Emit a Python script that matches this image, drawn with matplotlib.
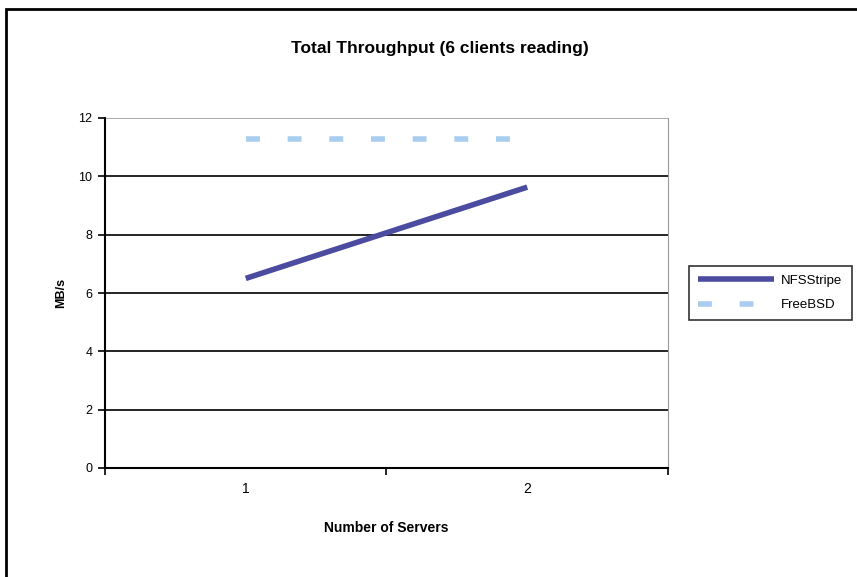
import matplotlib.pyplot as plt
from matplotlib.patches import Rectangle

servers = [1, 2]
nfsstripe = [6.5, 9.63]
freebsd = [11.28, 11.28]
yticks = [0, 2, 4, 6, 8, 10, 12]

plt.rcParams['font.family'] = ['Liberation Sans', 'DejaVu Sans']

fig = plt.figure(figsize=(8.57, 5.77), dpi=100)
W, H = 857, 577
# outer chart frame (runs off the right and bottom edge)
fig.patches.append(Rectangle((6 / W, -0.05), 1.0, 1 - 9 / H + 0.05, transform=fig.transFigure,
                             fill=False, edgecolor='black', linewidth=2))

ax = fig.add_axes([105 / W, 1 - 468 / H, (668 - 105) / W, (468 - 118) / H])
ax.plot(servers, nfsstripe, color='#4b4ba0', linewidth=4, solid_capstyle='butt', label='NFSStripe')
ax.plot(servers, freebsd, color='#a9cdee', linewidth=4, dashes=(2.5, 5), label='FreeBSD')

ax.set_xlim(0.5, 2.5)
ax.set_ylim(0, 12)
ax.set_yticks(yticks)
ax.set_xticks(servers)
ax.set_xticks([0.5, 1.5, 2.5], minor=True)
ax.tick_params(axis='x', which='major', length=0, pad=10, labelsize=10)
ax.tick_params(axis='x', which='minor', length=5, direction='out', width=1.2)
ax.tick_params(axis='y', length=5, direction='out', width=1.2, labelsize=9, pad=4)
for y in yticks[1:-1]:
    ax.axhline(y, color='black', linewidth=1.2, zorder=0)
ax.axhline(12, color='#999999', linewidth=1.2, zorder=0)
ax.spines['top'].set_visible(False)
ax.spines['right'].set_color('#999999')
ax.spines['left'].set_linewidth(1.5)
ax.spines['bottom'].set_linewidth(1.5)

ax.set_xlabel('Number of Servers', fontsize=10, fontweight='bold', labelpad=18)
ax.set_ylabel('MB/s', fontsize=9, fontweight='bold', labelpad=8)
fig.text(440 / W, 1 - 48 / H, 'Total Throughput (6 clients reading)', fontsize=12.5,
         fontweight='bold', ha='center', va='center')

leg = ax.legend(loc='center left', bbox_to_anchor=(1.025, 0.5), frameon=True, fancybox=False,
                fontsize=9.5, handlelength=5.8, handletextpad=0.5, borderpad=0.7, labelspacing=0.9)
leg.get_frame().set_edgecolor('black')
leg.get_frame().set_linewidth(1.2)

fig.savefig('out.png', dpi=100)
